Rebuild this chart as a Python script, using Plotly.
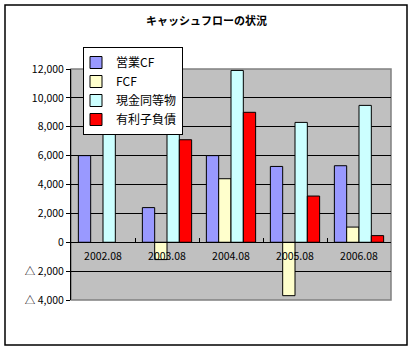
import plotly.graph_objects as go

categories = ["2002.08", "2003.08", "2004.08", "2005.08", "2006.08"]
eigyo_cf = [6000, 2400, 6000, 5250, 5300]
fcf = [None, -1200, 4400, -3700, 1050]
genkin = [8650, 7470, 11900, 8300, 9480]
yuurishi = [None, 7100, 9000, 3200, 460]

series_names = ["営業CF", "FCF", "現金同等物", "有利子負債"]
series_values = [eigyo_cf, fcf, genkin, yuurishi]
series_colors = ["#9999FF", "#FFFFCC", "#CCFFFF", "#FF0000"]

y_tick_vals = [-4000, -2000, 0, 2000, 4000, 6000, 8000, 10000, 12000]
y_tick_text = ["△ 4,000", "△ 2,000", "0", "2,000", "4,000", "6,000", "8,000", "10,000", "12,000"]

FONT = "Noto Sans CJK JP"

fig = go.Figure()
for name, vals, col in zip(series_names, series_values, series_colors):
    fig.add_trace(go.Bar(
        x=categories, y=vals, name=name,
        marker=dict(color=col, line=dict(color="black", width=1)),
    ))

L, R, T, B = 71, 22, 69, 51
W, H = 413, 351
pw, ph = W - L - R, H - T - B

def px_x(p):
    return (p - L) / pw

def px_y(p):
    return (H - B - p) / ph

ymin, ymax = -4000, 12000

fig.update_layout(
    width=W, height=H,
    margin=dict(l=L, r=R, t=T, b=B, pad=0),
    paper_bgcolor="white",
    plot_bgcolor="#C0C0C0",
    barmode="group",
    bargap=0.23,
    bargroupgap=0,
    font=dict(family=FONT, size=11, color="black"),
    title=dict(
        text="<b>キャッシュフローの状況</b>",
        x=0.5, xref="container", xanchor="center",
        y=1 - 21 / H, yref="container", yanchor="middle",
        font=dict(family=FONT, size=11, color="black"),
    ),
    legend=dict(
        x=px_x(83), y=px_y(47), xanchor="left", yanchor="top",
        bgcolor="white", bordercolor="black", borderwidth=1,
        font=dict(family=FONT, size=12, color="black"),
        traceorder="normal",
        itemwidth=30,
        indentation=-8,
    ),
    showlegend=True,
)

fig.update_yaxes(
    range=[ymin, ymax],
    tickvals=y_tick_vals, ticktext=y_tick_text,
    showgrid=True, gridcolor="black", gridwidth=1,
    zeroline=True, zerolinecolor="black", zerolinewidth=1,
    showline=True, linecolor="black", linewidth=1,
    ticks="outside", ticklen=4, tickcolor="black",
    tickfont=dict(family=FONT, size=10.5, color="black"),
    fixedrange=True,
)

fig.update_xaxes(
    anchor="free",
    position=(0 - ymin) / (ymax - ymin),
    showline=True, linecolor="black", linewidth=1,
    ticks="inside", ticklen=4, tickcolor="black",
    tickson="boundaries",
    ticklabelstandoff=4,
    showgrid=False,
    tickfont=dict(family=FONT, size=10.5, color="black"),
    fixedrange=True,
)

# plot area border (gray) and outer chart frame
fig.add_shape(type="rect", xref="paper", yref="paper", x0=0, y0=0, x1=1, y1=1,
              line=dict(color="#808080", width=1.5), layer="below")
fig.add_shape(type="rect", xref="paper", yref="paper",
              x0=px_x(5), x1=px_x(407), y0=px_y(345), y1=px_y(5),
              line=dict(color="black", width=1.5), layer="below")

fig.write_html("out.html")
